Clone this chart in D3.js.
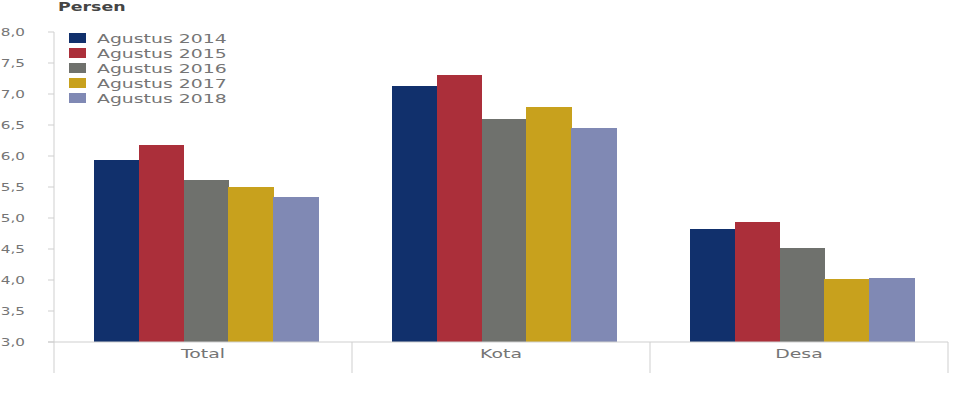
<!DOCTYPE html>
<html>
<head>
<meta charset="utf-8">
<script src="https://cdn.jsdelivr.net/npm/d3@7"></script>
<style>
  body { margin: 0; background: #fff; }
  text { font-family: "DejaVu Sans", Verdana, sans-serif; }
</style>
</head>
<body>
<div id="chart"></div>
<script>
var categories = ["Total", "Kota", "Desa"];
var seriesNames = ["Agustus 2014", "Agustus 2015", "Agustus 2016", "Agustus 2017", "Agustus 2018"];
var seriesColors = ["#11306c", "#ab2f3a", "#6f716d", "#c8a11d", "#8089b4"];
var values2014 = [5.94, 7.13, 4.82];
var values2015 = [6.18, 7.31, 4.94];
var values2016 = [5.61, 6.60, 4.52];
var values2017 = [5.50, 6.79, 4.01];
var values2018 = [5.34, 6.45, 4.04];
var yTicks = [3.0, 3.5, 4.0, 4.5, 5.0, 5.5, 6.0, 6.5, 7.0, 7.5, 8.0];

var allSeries = [values2014, values2015, values2016, values2017, values2018];

var W = 964, H = 396;
var SX = 1.45; // source picture is stretched horizontally
var axisCol = "#cfcfcf", textCol = "#757575";

var svg = d3.select("#chart").append("svg")
    .attr("width", W)
    .attr("height", H);

var y = d3.scaleLinear().domain([3, 8]).range([342, 32]);
var x0 = d3.scaleBand().domain(categories).range([54, 948]);
var x1 = d3.scaleBand().domain(seriesNames).range([40, 264]);

var fmt = d3.formatLocale({decimal: ",", thousands: ".", grouping: [3], currency: ["", ""]}).format(".1f");

function stext(x, yy, str) {
    return svg.append("text")
        .attr("transform", "translate(" + x + "," + yy + ") scale(" + SX + ",1)")
        .text(str);
}

// title
stext(58, 11, "Persen")
    .attr("font-size", 12)
    .attr("font-weight", "bold")
    .attr("fill", "#444");

// y axis
svg.append("line")
    .attr("x1", 54).attr("x2", 54)
    .attr("y1", y(8)).attr("y2", 373)
    .attr("stroke", axisCol);

yTicks.forEach(function (t) {
    svg.append("line")
        .attr("x1", 48).attr("x2", 54)
        .attr("y1", y(t)).attr("y2", y(t))
        .attr("stroke", axisCol);
    stext(25, y(t) + 4, fmt(t))
        .attr("font-size", 10.5)
        .attr("text-anchor", "end")
        .attr("fill", textCol);
});

// bars
var g = svg.append("g").attr("shape-rendering", "crispEdges");
categories.forEach(function (c, ci) {
    seriesNames.forEach(function (s, si) {
        var v = allSeries[si][ci];
        g.append("rect")
            .attr("x", x0(c) + x1(s))
            .attr("y", y(v))
            .attr("width", x1.bandwidth() + 0.5)
            .attr("height", y(3) - y(v))
            .attr("fill", seriesColors[si]);
    });
});

// baseline and category dividers
svg.append("line")
    .attr("x1", 48).attr("x2", 948)
    .attr("y1", y(3)).attr("y2", y(3))
    .attr("stroke", axisCol);

categories.forEach(function (c) {
    var xe = x0(c) + x0.bandwidth();
    svg.append("line")
        .attr("x1", xe).attr("x2", xe)
        .attr("y1", y(3)).attr("y2", 373)
        .attr("stroke", axisCol);
    stext(x0(c) + x0.bandwidth() / 2, 358, c)
        .attr("font-size", 13)
        .attr("text-anchor", "middle")
        .attr("fill", textCol);
});

// legend
seriesNames.forEach(function (s, i) {
    var ly = 38 + i * 15;
    svg.append("rect")
        .attr("x", 69).attr("y", ly - 5)
        .attr("width", 17).attr("height", 10)
        .attr("fill", seriesColors[i]);
    stext(97, ly + 5, s)
        .attr("font-size", 13)
        .attr("fill", textCol);
});
</script>
</body>
</html>
